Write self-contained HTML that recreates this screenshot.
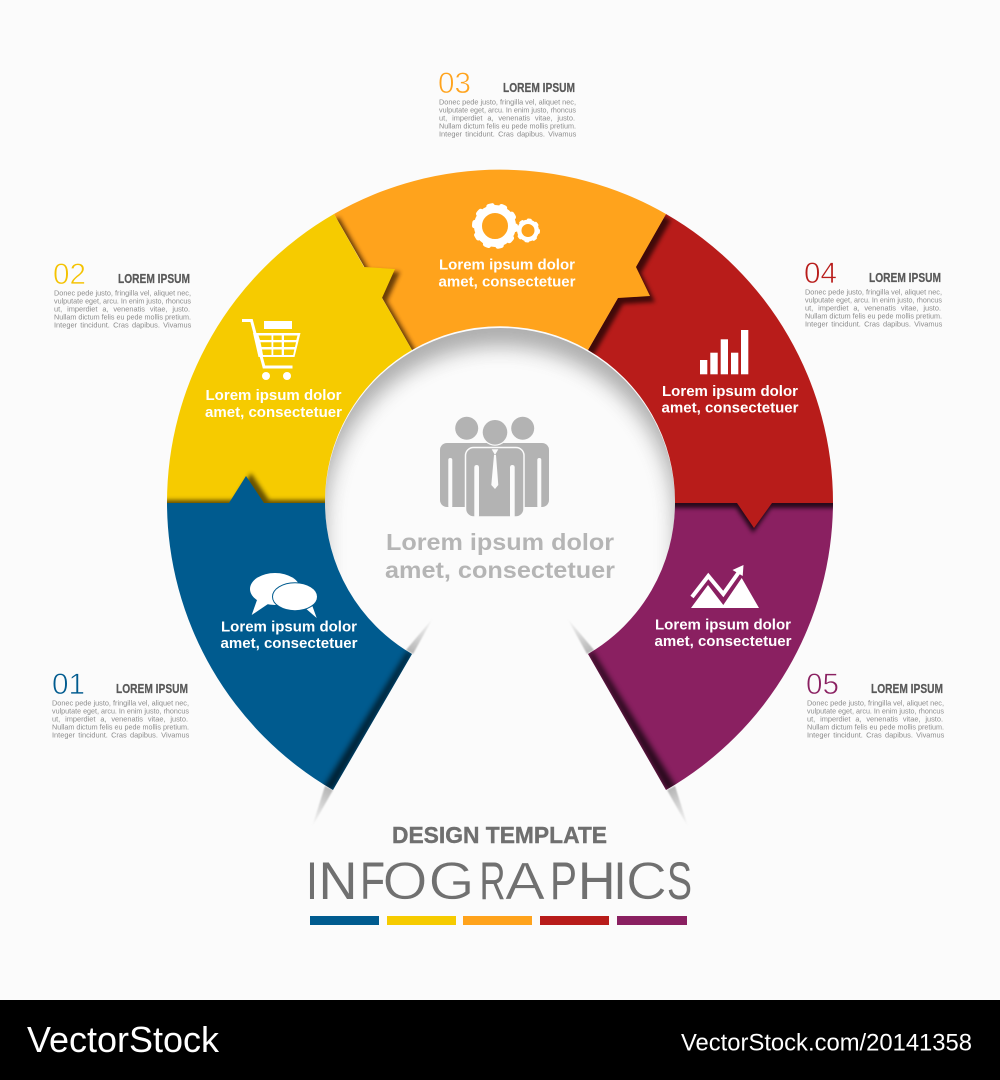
<!DOCTYPE html>
<html><head><meta charset="utf-8"><style>
html,body{margin:0;padding:0;background:#fbfbfb}
svg{display:block}
text{font-family:"Liberation Sans",sans-serif}
.b{font-size:7.4px;fill:#8c8c8c}
.w3{word-spacing:2.8px}
.w5{word-spacing:1.2px}
.t{font-size:13px;font-weight:bold;fill:#595959;stroke:#595959;stroke-width:.25px}
.n{font-size:30px;stroke:#fbfbfb;stroke-width:.7px}
.l{font-size:14.5px;font-weight:bold;fill:#fff;text-anchor:middle}
.th{stroke:#fbfbfb;stroke-width:.7px}
</style></head><body>
<svg width="1000" height="1080" viewBox="0 0 1000 1080" xmlns="http://www.w3.org/2000/svg">
<defs>
<filter id="b2" filterUnits="userSpaceOnUse" x="0" y="0" width="1000" height="1000"><feGaussianBlur stdDeviation="2"/></filter>
<filter id="b3" filterUnits="userSpaceOnUse" x="0" y="0" width="1000" height="1000"><feGaussianBlur stdDeviation="3"/></filter>
<filter id="b1" filterUnits="userSpaceOnUse" x="0" y="0" width="1000" height="1000"><feGaussianBlur stdDeviation=".7"/></filter>
<filter id="b8" filterUnits="userSpaceOnUse" x="0" y="0" width="1000" height="1000"><feGaussianBlur stdDeviation="10"/></filter>
<linearGradient id="s1" gradientUnits="userSpaceOnUse" x1="412" y1="654" x2="433" y2="618"><stop offset="0" stop-color="#b5b5b5"/><stop offset="1" stop-color="#fbfbfb"/></linearGradient>
<linearGradient id="s2" gradientUnits="userSpaceOnUse" x1="333" y1="790" x2="312" y2="827"><stop offset="0" stop-color="#b5b5b5"/><stop offset="1" stop-color="#fbfbfb"/></linearGradient>
<linearGradient id="s3" gradientUnits="userSpaceOnUse" x1="588" y1="654" x2="567" y2="618"><stop offset="0" stop-color="#b5b5b5"/><stop offset="1" stop-color="#fbfbfb"/></linearGradient>
<linearGradient id="s4" gradientUnits="userSpaceOnUse" x1="667" y1="790" x2="688" y2="827"><stop offset="0" stop-color="#b5b5b5"/><stop offset="1" stop-color="#fbfbfb"/></linearGradient>
<clipPath id="cInner"><circle cx="500" cy="503" r="175"/></clipPath>
<clipPath id="cPurple"><path d="M833 503A333 333 0 0 1 666 790L588 654A175 175 0 0 0 675 503Z"/></clipPath>
<clipPath id="cRed"><path d="M666 214A333 333 0 0 1 833 503H675A175 175 0 0 0 588 350Z"/></clipPath>
<clipPath id="cOrange"><path d="M334 214A333 333 0 0 1 666 214L588 350A175 175 0 0 0 412 350Z"/></clipPath>
<clipPath id="cYellow"><path d="M167 503A333 333 0 0 1 334 214L412 350A175 175 0 0 0 325 503Z"/></clipPath>
<clipPath id="cBlue"><path d="M167 503A333 333 0 0 0 333 790L412 654A175 175 0 0 1 325 503Z"/></clipPath>
</defs>
<rect width="1000" height="1000" fill="#fbfbfb"/>

<!-- inner hole shadow -->
<g clip-path="url(#cInner)">
<path fill-rule="evenodd" fill="#5a5a5a" opacity=".48" filter="url(#b8)" d="M100 100H900V950H100ZM325 521A175 175 0 0 1 675 521V900H325Z"/>
</g>

<!-- wedge slivers -->
<g filter="url(#b1)">
<path fill="url(#s1)" d="M413 654L433 618L406 650Z"/>
<path fill="url(#s2)" d="M333 790L312 827L325 786Z"/>
<path fill="url(#s3)" d="M587 654L567 618L594 650Z"/>
<path fill="url(#s4)" d="M667 790L688 827L675 786Z"/>
</g>

<!-- purple -->
<path fill="#8a2061" d="M833 503A333 333 0 0 1 666 790L588 654A175 175 0 0 0 675 503Z"/>
<g clip-path="url(#cPurple)">
<path fill="#000" opacity=".7" filter="url(#b3)" d="M588 654L666 790L678 790L592 650Z"/>
<g transform="translate(-1 5)"><path fill="#000" opacity=".72" filter="url(#b2)" d="M900 503H772L754 528L737 503H660V450H900Z"/></g>
</g>

<!-- red -->
<path fill="#b81c1a" d="M666 214A333 333 0 0 1 833 503H772L754 528L737 503H675A175 175 0 0 0 588 350Z"/>
<g clip-path="url(#cRed)">
<g transform="translate(5 6)"><path fill="#000" opacity=".65" filter="url(#b2)" d="M334 214A333 333 0 0 1 666 214L636 267L650 296L618 298L588 350A175 175 0 0 0 412 350Z"/></g>
</g>

<!-- orange -->
<path fill="#ffa31c" d="M334 214A333 333 0 0 1 666 214L636 267L650 296L618 298L588 350A175 175 0 0 0 412 350Z"/>
<g clip-path="url(#cOrange)">
<g transform="translate(5 3)"><path fill="#3a1c00" opacity=".75" filter="url(#b2)" d="M167 503A333 333 0 0 1 334 214L364 267L395 269L382 298L412 350A175 175 0 0 0 325 503Z"/></g>
</g>

<!-- yellow -->
<path fill="#f6cb00" d="M167 503A333 333 0 0 1 334 214L364 267L395 269L382 298L412 350A175 175 0 0 0 325 503Z"/>
<g clip-path="url(#cYellow)">
<g transform="translate(5 -3)"><path fill="#3a2a00" opacity=".75" filter="url(#b2)" d="M100 503H229L246 476L264 503H340V560H100Z"/></g>
</g>

<!-- blue -->
<path fill="#005b8f" d="M167 503H229L246 476L264 503H325A175 175 0 0 0 412 654L333 790A333 333 0 0 1 167 503Z"/>
<g clip-path="url(#cBlue)">
<path fill="#000" opacity=".65" filter="url(#b3)" d="M412 654L333 790L322 790L408 650Z"/>
</g>

<!-- bar icons -->
<g fill="#fff">
<rect x="700" y="360" width="7.3" height="14.3"/><rect x="710.3" y="352.7" width="7.4" height="21.6"/><rect x="720.7" y="339.3" width="7.3" height="35"/><rect x="731" y="352.7" width="7.3" height="21.6"/><rect x="741" y="330" width="7.3" height="44.3"/>
</g>

<!-- gears -->
<g fill="none" stroke="#fff">
<circle cx="495" cy="226" r="17" stroke-width="8"/>
<circle cx="495" cy="226" r="20.5" stroke-width="5" stroke-linecap="round" stroke-dasharray="3.5 9.38"/>
<circle cx="528" cy="230.5" r="8.7" stroke-width="4.4"/>
<circle cx="528" cy="230.5" r="10.5" stroke-width="3" stroke-linecap="round" stroke-dasharray="2 6.25"/>
</g>

<!-- cart -->
<g>
<rect x="264" y="321" width="28" height="8" fill="#fff"/>
<path fill="#fff" d="M253 333H300.5L294.5 357H258.5Z"/>
<g fill="#f6cb00">
<path d="M258.5 335.5H271.5V340H260Z"/><rect x="273.3" y="335.5" width="8.4" height="4.5"/><path d="M284 335.5H297.5L296.3 340H284Z"/>
<path d="M260.5 342.3H271.5V347H261.5Z"/><rect x="273.3" y="342.3" width="8.4" height="4.7"/><path d="M284 342.3H296L295 347H284Z"/>
<path d="M262 349.5H271.5V355H263Z"/><rect x="273.3" y="349.5" width="8.4" height="5.5"/><path d="M284 349.5H294.3L293.2 355H284Z"/>
</g>
<path fill="none" stroke="#fff" stroke-width="3" d="M242 320.5H251.5L264 367H292.5"/>
<circle cx="266" cy="376" r="4" fill="#fff"/><circle cx="287" cy="376" r="4" fill="#fff"/>
</g>

<!-- speech bubbles -->
<g fill="#fff">
<ellipse cx="275" cy="589" rx="25" ry="16"/>
<path d="M257 600L251.7 615L268 604Z"/>
<path d="M304 607L316.7 618L312 605Z"/>
<ellipse cx="295" cy="596.7" rx="22.5" ry="14" stroke="#005b8f" stroke-width="1"/>
</g>

<!-- mountain -->
<g fill="#fff">
<path d="M691 608L708 585L723.3 605L741.7 578L759 608Z"/>
<path fill="none" stroke="#fff" stroke-width="4" d="M692 597L708.3 576L723.3 594L739 572"/>
<path d="M743.5 565L732.5 570L742.7 576Z"/>
</g>

<!-- people -->
<g fill="#b3b3b3">
<circle cx="466.7" cy="428.3" r="11.5"/><circle cx="522.7" cy="428.3" r="11.5"/>
<rect x="440" y="443" width="109" height="64" rx="7"/>
<rect x="448.3" y="458" width="4" height="50" rx="2" fill="#fbfbfb"/>
<rect x="537.3" y="458" width="4" height="50" rx="2" fill="#fbfbfb"/>
<circle cx="495" cy="432.3" r="13.5" fill="#fbfbfb"/>
<circle cx="495" cy="432.3" r="12.3"/>
<rect x="465.5" y="447.5" width="58.5" height="69.5" rx="8" stroke="#fbfbfb" stroke-width="1.5"/>
<rect x="474.3" y="465" width="4.7" height="53" rx="2.3" fill="#fbfbfb"/>
<rect x="510" y="465" width="4.7" height="53" rx="2.3" fill="#fbfbfb"/>
<path fill="#fbfbfb" d="M491.7 449.3H498.3L495 455Z"/>
<path fill="#fbfbfb" d="M494 455H496L498.3 485L495 489L491.3 485Z"/>
</g>

<!-- segment labels -->
<text class="l" x="507" y="269.5" textLength="136" lengthAdjust="spacingAndGlyphs">Lorem ipsum dolor</text>
<text class="l" x="507" y="286.5" textLength="137" lengthAdjust="spacingAndGlyphs">amet, consectetuer</text>
<text class="l" x="273.5" y="400" textLength="136" lengthAdjust="spacingAndGlyphs">Lorem ipsum dolor</text>
<text class="l" x="273.5" y="417" textLength="137" lengthAdjust="spacingAndGlyphs">amet, consectetuer</text>
<text class="l" x="730" y="396" textLength="136" lengthAdjust="spacingAndGlyphs">Lorem ipsum dolor</text>
<text class="l" x="730" y="412.5" textLength="137" lengthAdjust="spacingAndGlyphs">amet, consectetuer</text>
<text class="l" x="289" y="631.5" textLength="136" lengthAdjust="spacingAndGlyphs">Lorem ipsum dolor</text>
<text class="l" x="289" y="648" textLength="137" lengthAdjust="spacingAndGlyphs">amet, consectetuer</text>
<text class="l" x="723" y="629.5" textLength="136" lengthAdjust="spacingAndGlyphs">Lorem ipsum dolor</text>
<text class="l" x="723" y="646" textLength="137" lengthAdjust="spacingAndGlyphs">amet, consectetuer</text>

<!-- centre label -->
<text x="500" y="550" text-anchor="middle" font-size="23.5" font-weight="bold" fill="#b5b5b5" textLength="228" lengthAdjust="spacingAndGlyphs">Lorem ipsum dolor</text>
<text x="500" y="578" text-anchor="middle" font-size="23.5" font-weight="bold" fill="#b5b5b5" textLength="230" lengthAdjust="spacingAndGlyphs">amet, consectetuer</text>

<!-- block 03 -->
<g>
<text class="n" x="438" y="93" fill="#ffa31c" textLength="33" lengthAdjust="spacingAndGlyphs">03</text>
<text class="t" x="503" y="92" textLength="72" lengthAdjust="spacingAndGlyphs">LOREM IPSUM</text>
<text class="b" x="439" y="104.5" textLength="137" lengthAdjust="spacingAndGlyphs">Donec pede justo, fringilla vel, aliquet nec,</text>
<text class="b" x="439" y="112.5" textLength="137" lengthAdjust="spacingAndGlyphs">vulputate eget, arcu. In enim justo, rhoncus</text>
<text class="b w3" x="439" y="120.5">ut, imperdiet a, venenatis vitae, justo.</text>
<text class="b" x="439" y="128.5" textLength="137" lengthAdjust="spacingAndGlyphs">Nullam dictum felis eu pede mollis pretium.</text>
<text class="b w5" x="439" y="136.5">Integer tincidunt. Cras dapibus. Vivamus</text>
</g>
<!-- block 02 -->
<g transform="translate(-385 191)">
<text class="n" x="438" y="93" fill="#f4c200" textLength="33" lengthAdjust="spacingAndGlyphs">02</text>
<text class="t" x="503" y="92" textLength="72" lengthAdjust="spacingAndGlyphs">LOREM IPSUM</text>
<text class="b" x="439" y="104.5" textLength="137" lengthAdjust="spacingAndGlyphs">Donec pede justo, fringilla vel, aliquet nec,</text>
<text class="b" x="439" y="112.5" textLength="137" lengthAdjust="spacingAndGlyphs">vulputate eget, arcu. In enim justo, rhoncus</text>
<text class="b w3" x="439" y="120.5">ut, imperdiet a, venenatis vitae, justo.</text>
<text class="b" x="439" y="128.5" textLength="137" lengthAdjust="spacingAndGlyphs">Nullam dictum felis eu pede mollis pretium.</text>
<text class="b w5" x="439" y="136.5">Integer tincidunt. Cras dapibus. Vivamus</text>
</g>
<!-- block 04 -->
<g transform="translate(366 190)">
<text class="n" x="438" y="93" fill="#b81c1a" textLength="33" lengthAdjust="spacingAndGlyphs">04</text>
<text class="t" x="503" y="92" textLength="72" lengthAdjust="spacingAndGlyphs">LOREM IPSUM</text>
<text class="b" x="439" y="104.5" textLength="137" lengthAdjust="spacingAndGlyphs">Donec pede justo, fringilla vel, aliquet nec,</text>
<text class="b" x="439" y="112.5" textLength="137" lengthAdjust="spacingAndGlyphs">vulputate eget, arcu. In enim justo, rhoncus</text>
<text class="b w3" x="439" y="120.5">ut, imperdiet a, venenatis vitae, justo.</text>
<text class="b" x="439" y="128.5" textLength="137" lengthAdjust="spacingAndGlyphs">Nullam dictum felis eu pede mollis pretium.</text>
<text class="b w5" x="439" y="136.5">Integer tincidunt. Cras dapibus. Vivamus</text>
</g>
<!-- block 05 -->
<g transform="translate(368 601)">
<text class="n" x="438" y="93" fill="#8a2061" textLength="33" lengthAdjust="spacingAndGlyphs">05</text>
<text class="t" x="503" y="92" textLength="72" lengthAdjust="spacingAndGlyphs">LOREM IPSUM</text>
<text class="b" x="439" y="104.5" textLength="137" lengthAdjust="spacingAndGlyphs">Donec pede justo, fringilla vel, aliquet nec,</text>
<text class="b" x="439" y="112.5" textLength="137" lengthAdjust="spacingAndGlyphs">vulputate eget, arcu. In enim justo, rhoncus</text>
<text class="b w3" x="439" y="120.5">ut, imperdiet a, venenatis vitae, justo.</text>
<text class="b" x="439" y="128.5" textLength="137" lengthAdjust="spacingAndGlyphs">Nullam dictum felis eu pede mollis pretium.</text>
<text class="b w5" x="439" y="136.5">Integer tincidunt. Cras dapibus. Vivamus</text>
</g>
<!-- block 01 -->
<g transform="translate(-387 601)">
<text class="n" x="439" y="93" fill="#005b8f" textLength="33" lengthAdjust="spacingAndGlyphs">01</text>
<text class="t" x="503" y="92" textLength="72" lengthAdjust="spacingAndGlyphs">LOREM IPSUM</text>
<text class="b" x="439" y="104.5" textLength="137" lengthAdjust="spacingAndGlyphs">Donec pede justo, fringilla vel, aliquet nec,</text>
<text class="b" x="439" y="112.5" textLength="137" lengthAdjust="spacingAndGlyphs">vulputate eget, arcu. In enim justo, rhoncus</text>
<text class="b w3" x="439" y="120.5">ut, imperdiet a, venenatis vitae, justo.</text>
<text class="b" x="439" y="128.5" textLength="137" lengthAdjust="spacingAndGlyphs">Nullam dictum felis eu pede mollis pretium.</text>
<text class="b w5" x="439" y="136.5">Integer tincidunt. Cras dapibus. Vivamus</text>
</g>

<!-- title -->
<text x="392" y="843" font-size="23.5" font-weight="bold" fill="#6f6f6f" stroke="#6f6f6f" stroke-width=".4" textLength="215" lengthAdjust="spacingAndGlyphs">DESIGN TEMPLATE</text>
<text y="899" font-size="53" fill="#707070"><tspan x="306" textLength="12" lengthAdjust="spacingAndGlyphs">I</tspan><tspan x="318.5" textLength="39" lengthAdjust="spacingAndGlyphs">N</tspan><tspan x="360" textLength="25" lengthAdjust="spacingAndGlyphs">F</tspan><tspan class="th" x="382.5" textLength="45" lengthAdjust="spacingAndGlyphs">O</tspan><tspan class="th" x="428.5" textLength="46" lengthAdjust="spacingAndGlyphs">G</tspan><tspan x="479.5" textLength="26" lengthAdjust="spacingAndGlyphs">R</tspan><tspan class="th" x="505" textLength="40" lengthAdjust="spacingAndGlyphs">A</tspan><tspan x="550" textLength="27" lengthAdjust="spacingAndGlyphs">P</tspan><tspan x="578" textLength="37.5" lengthAdjust="spacingAndGlyphs">H</tspan><tspan x="613.5" textLength="13" lengthAdjust="spacingAndGlyphs">I</tspan><tspan class="th" x="626" textLength="41" lengthAdjust="spacingAndGlyphs">C</tspan><tspan x="667" textLength="25" lengthAdjust="spacingAndGlyphs">S</tspan></text>
<rect x="310" y="916" width="69" height="9" fill="#005b8f"/>
<rect x="387" y="916" width="69" height="9" fill="#f6cb00"/>
<rect x="463" y="916" width="69" height="9" fill="#ffa31c"/>
<rect x="540" y="916" width="69" height="9" fill="#b81c1a"/>
<rect x="617" y="916" width="70" height="9" fill="#8a2061"/>

<!-- footer -->
<rect x="0" y="1000" width="1000" height="80" fill="#000"/>
<text x="27" y="1052" font-size="36" fill="#fff" textLength="192" lengthAdjust="spacingAndGlyphs">VectorStock</text>
<text x="681" y="1050.5" font-size="24" fill="#fff" textLength="291" lengthAdjust="spacingAndGlyphs">VectorStock.com/20141358</text>
</svg>
</body></html>
